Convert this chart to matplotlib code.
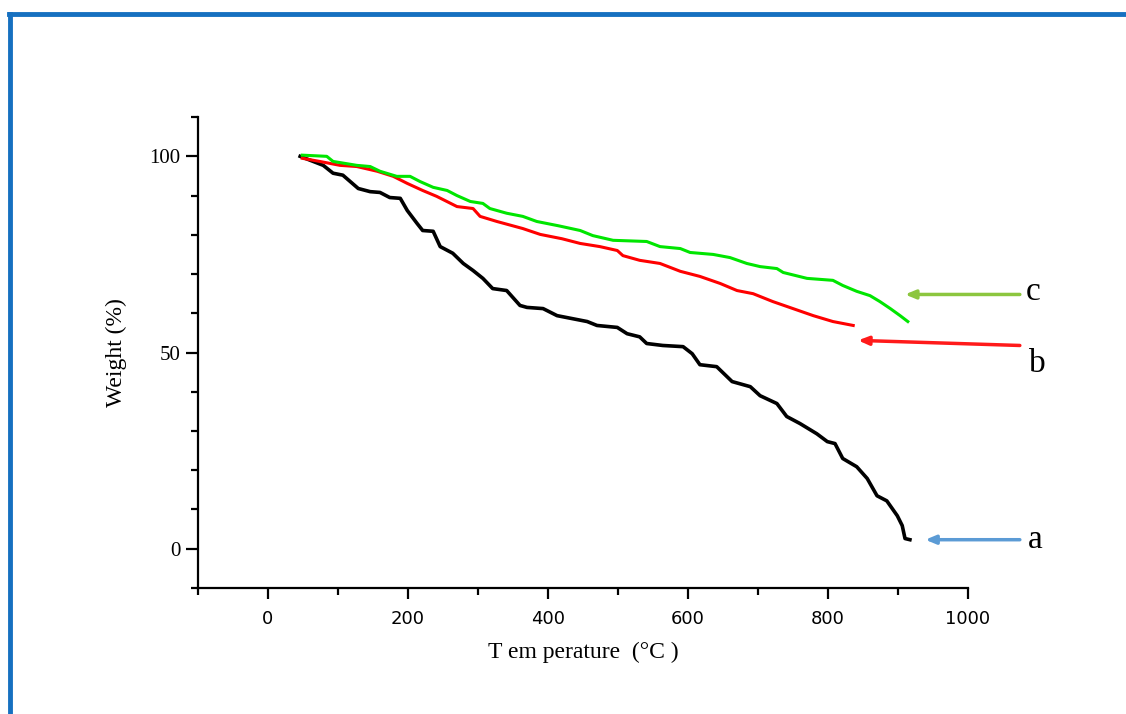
import matplotlib
matplotlib.use("Agg")
import matplotlib.pyplot as plt
from matplotlib.lines import Line2D
from matplotlib.ticker import MultipleLocator

# courbe a (noir)
temp_a = [46, 79, 93, 107, 129, 146, 160, 174, 189, 199, 213, 221, 236, 246, 264, 279, 293, 307,
          321, 341, 360, 370, 393, 413, 456, 470, 499, 513, 531, 541, 564, 593, 606, 617, 641, 663,
          689, 703, 727, 741, 760, 784, 799, 810, 821, 841, 856, 870, 884, 899, 906, 910, 917]
weight_a = [100, 97.7, 95.7, 95.2, 91.8, 91, 90.8, 89.5, 89.3, 86.2, 82.9, 81.1, 80.9, 77, 75.3, 72.7,
            70.9, 68.9, 66.3, 65.8, 62, 61.5, 61.2, 59.4, 57.9, 56.9, 56.4, 54.8, 54, 52.3, 51.8, 51.5,
            49.7, 46.9, 46.4, 42.6, 41.3, 39, 37, 33.7, 31.9, 29.3, 27.3, 26.8, 23, 20.9, 17.9, 13.5,
            12.2, 8.4, 5.9, 2.6, 2.3]

# courbe b (rouge)
temp_b = [49, 74, 103, 127, 156, 179, 199, 221, 241, 270, 293, 303, 327, 364, 389, 420, 446, 474,
          499, 507, 531, 560, 589, 617, 646, 670, 693, 721, 750, 779, 807, 836]
weight_b = [99.5, 98.7, 97.7, 97.4, 96.2, 94.9, 93.1, 91.3, 89.8, 87.2, 86.7, 84.7, 83.4, 81.6, 80.1,
            79, 77.8, 77, 76, 74.7, 73.5, 72.7, 70.7, 69.4, 67.6, 65.8, 65, 63, 61.2, 59.4, 57.9, 56.9]

# courbe c (vert)
temp_c = [49, 84, 93, 127, 146, 160, 184, 203, 217, 236, 256, 270, 289, 307, 317, 341, 364, 384,
          415, 446, 464, 493, 541, 560, 589, 603, 636, 660, 684, 703, 727, 736, 770, 807, 821, 841,
          860, 874, 889, 903, 914]
weight_c = [100.3, 100, 98.7, 97.7, 97.4, 96.2, 94.9, 94.9, 93.6, 92.1, 91.3, 90, 88.5, 88, 86.7, 85.5,
            84.7, 83.4, 82.3, 81.1, 79.8, 78.6, 78.3, 77, 76.5, 75.5, 75, 74.2, 72.7, 71.9, 71.4, 70.4,
            68.9, 68.4, 67.1, 65.6, 64.5, 63, 61.2, 59.4, 57.9]

labels = ['a', 'b', 'c']
arrow_colors = ['#5b9bd5', '#ff1a1a', '#8cc63f']
arrow_heads = [(939, 2.3), (843, 53.1), (910, 64.8)]
arrow_tails = [(1074, 2.3), (1074, 51.8), (1074, 64.8)]
label_pos = [(1096, 2.3), (1099, 47.2), (1093, 65.6)]

fig = plt.figure(figsize=(11.26, 7.14), dpi=100)
ax = fig.add_axes([0.1758, 0.1765, 0.6839, 0.6595])

ax.plot(temp_a, weight_a, color='black', lw=2.6)
ax.plot(temp_b, weight_b, color='#ff0000', lw=2.2)
ax.plot(temp_c, weight_c, color='#00e600', lw=2.2)

# flèches et lettres
for lab, col, head, tail, pos in zip(labels, arrow_colors, arrow_heads, arrow_tails, label_pos):
    ax.annotate('', xy=head, xytext=tail, annotation_clip=False,
                arrowprops=dict(arrowstyle='-|>,head_length=0.6,head_width=0.25', color=col, lw=2.5,
                                shrinkA=0, shrinkB=0))
    ax.text(pos[0], pos[1], lab, family='Liberation Serif', fontsize=24, ha='center', va='center',
            clip_on=False)

ax.set_xlim(-100, 1000)
ax.set_ylim(-10, 110)
ax.spines['top'].set_visible(False)
ax.spines['right'].set_visible(False)
ax.spines['left'].set_linewidth(1.6)
ax.spines['bottom'].set_linewidth(1.6)

ax.xaxis.set_major_locator(MultipleLocator(200))
ax.xaxis.set_minor_locator(MultipleLocator(100))
ax.yaxis.set_major_locator(MultipleLocator(50))
ax.yaxis.set_minor_locator(MultipleLocator(10))
ax.tick_params(axis='both', which='major', direction='out', width=1.6, length=8)
ax.tick_params(axis='y', which='major', length=9)
ax.tick_params(axis='both', which='minor', direction='out', width=1.6, length=5)
ax.tick_params(axis='x', which='major', pad=8)

for t in ax.get_xticklabels():
    t.set_family('DejaVu Sans')
    t.set_fontsize(13)
for t in ax.get_yticklabels():
    t.set_family('Liberation Serif')
    t.set_fontsize(15)

ax.set_xlabel('T em perature  (\u00b0C )', family='Liberation Serif', fontsize=17, labelpad=10)
ax.set_ylabel('Weight (%)', family='Liberation Serif', fontsize=17, labelpad=16)

# cadre bleu (haut et gauche)
fig.add_artist(Line2D([0.008, 1.0], [0.981, 0.981], color='#1670c0', lw=3.5, transform=fig.transFigure))
fig.add_artist(Line2D([0.0093, 0.0093], [0.0, 0.981], color='#1670c0', lw=3.5, transform=fig.transFigure))

fig.savefig('out.png', dpi=100)
